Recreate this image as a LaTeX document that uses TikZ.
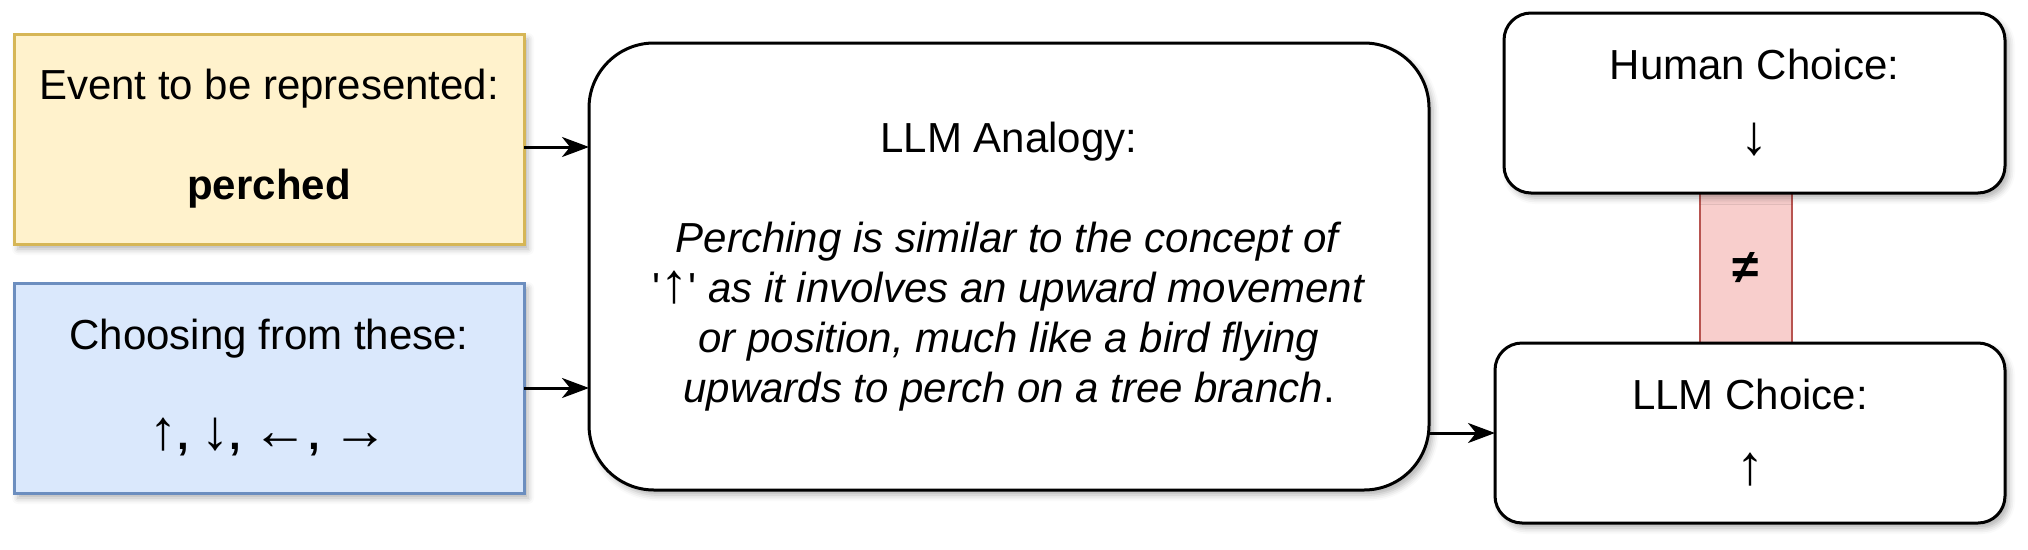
\documentclass[tikz,border=0pt]{standalone}
\usepackage{fontspec}
\setmainfont{Liberation Sans}[Ligatures=TeXOff]
\usetikzlibrary{arrows.meta,shadows.blur}
\definecolor{yfill}{HTML}{FFF2CC}
\definecolor{ydraw}{HTML}{D6B656}
\definecolor{bfill}{HTML}{DAE8FC}
\definecolor{bdraw}{HTML}{6C8EBF}
\definecolor{rfill}{HTML}{F8CECC}
\definecolor{rdraw}{HTML}{B85450}
\newcommand\arw[1]{{\fontsize{56}{50}\selectfont #1}}
\begin{document}
\begin{tikzpicture}[x=1pt,y=-1pt,
  every node/.style={font=\fontsize{42}{50}\selectfont, align=center, inner sep=0pt, outer sep=0pt},
  shad/.style={blur shadow={shadow xshift=4pt,shadow yshift=-5pt,shadow blur radius=6pt,shadow opacity=30}},
  boxbase/.style={draw, line width=3pt, shad},
  yellowbox/.style={boxbase, fill=yfill, draw=ydraw, minimum width=510pt, minimum height=210pt},
  bluebox/.style={boxbase, fill=bfill, draw=bdraw, minimum width=510pt, minimum height=210pt},
  bigbox/.style={boxbase, fill=white, rounded corners=65pt, minimum width=840pt, minimum height=447pt},
  choicebox/.style={boxbase, fill=white, rounded corners=27pt, minimum height=180pt},
  neqbar/.style={fill=rfill, draw=rdraw, line width=2pt, minimum width=92pt, minimum height=150pt},
  conn/.style={line width=3pt, -{Stealth[length=27pt,width=20pt,inset=8pt]}}]
\useasboundingbox (0,0) rectangle (2028,549);

\node[yellowbox] (event) at (269,139) {Event to be represented:\\[50pt]\textbf{perched}};
\node[bluebox] (choices) at (269,388) {Choosing from these:\\[50pt]\textbf{\arw{↑}, \arw{↓}, \arw{←}, \arw{→}}};
\node[bigbox] (analogy) at (1009,266.5) {LLM Analogy:\\[50pt]\textit{Perching is similar to the concept of}\\'\arw{↑}' \textit{as it involves an upward movement}\\\textit{or position, much like a bird flying}\\\textit{upwards to perch on a tree branch}.};

\node[neqbar] (neq) at (1746,268) {\fontsize{48}{50}\selectfont\textbf{≠}};
\node[choicebox, minimum width=501pt] (human) at (1754.5,103) {Human Choice:\\[25pt]\arw{↓}};
\node[choicebox, minimum width=510pt] (llm) at (1750,433) {LLM Choice:\\[25pt]\arw{↑}};

\draw[conn] ([yshift=-8pt]event.east) -- ([yshift=-8pt]event.east -| analogy.west);
\draw[conn] (choices.east) -- (choices.east -| analogy.west);
\draw[conn] (analogy.east |- llm.west) -- (llm.west);
\end{tikzpicture}
\end{document}
